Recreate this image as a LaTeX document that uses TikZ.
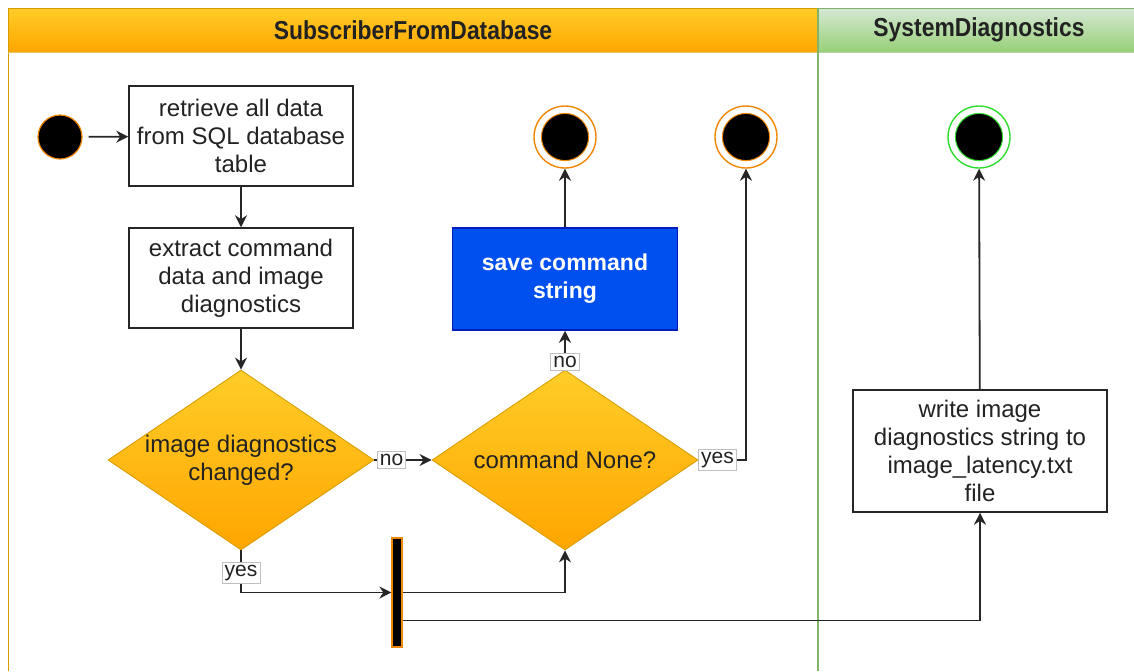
\documentclass[tikz,border=0pt]{standalone}
\usepackage{fontspec}
\usepackage{graphicx}
\setmainfont{Liberation Sans}
\usetikzlibrary{shapes.geometric,arrows.meta,calc}
\definecolor{hdrtop}{HTML}{FFCD28}
\definecolor{hdrbot}{HTML}{FFA500}
\definecolor{hdrline}{HTML}{D79B00}
\definecolor{grtop}{HTML}{D5E8D4}
\definecolor{grbot}{HTML}{97D077}
\definecolor{grline}{HTML}{82B366}
\definecolor{blu}{HTML}{0050EF}
\definecolor{bluline}{HTML}{001DBC}
\definecolor{ring}{HTML}{F08705}
\definecolor{gring}{HTML}{2EDD2E}
\definecolor{txt}{HTML}{222222}
\tikzset{
  box/.style={draw=black!85, line width=0.75pt, fill=white, rectangle, inner sep=2pt,
    align=center, text=txt, font=\fontsize{12}{14}\selectfont},
  dec/.style={diamond, draw=hdrline, line width=0.4pt, top color=hdrtop, bottom color=hdrbot,
    inner sep=0pt, minimum width=133pt, minimum height=90pt,
    label={[align=center, text=txt, font=\fontsize{12}{14}\selectfont]center:#1}},
  initstate/.style={circle, fill=black, draw=ring, line width=0.6pt, minimum size=22pt, inner sep=0pt},
  endstate/.style={circle, draw=#1, fill=white, line width=0.7pt, minimum size=31pt, inner sep=0pt,
    path picture={\fill[black] (path picture bounding box.center) circle (11.8pt);
      \draw[#1, line width=0.5pt] (path picture bounding box.center) circle (11.8pt);}},
  arr/.style={draw=black!85, line width=0.9pt, -{Stealth[length=6pt,width=6pt]}},
  lbl/.style={draw=black!25, line width=0.4pt, fill=white, inner sep=1.3pt, text=txt,
    font=\fontsize{10.5}{11}\selectfont},
  forkbar/.style={rectangle, fill=black, draw=ring, line width=0.6pt, minimum width=5pt,
    minimum height=54.5pt, inner sep=0pt},
  hdr/.style={text=txt, font=\bfseries\fontsize{13}{14}\selectfont},
}
\begin{document}
\begin{tikzpicture}[x=0.5pt,y=-0.5pt]
\useasboundingbox (0,0) rectangle (1134,671);
% swimlanes
\shade[top color=hdrtop, bottom color=hdrbot] (8,8) rectangle (818,52);
\shade[top color=grtop, bottom color=grbot] (818,8) rectangle (1134,52);
\draw[hdrline, line width=0.5pt] (8,671) -- (8,8) -- (818,8);
\draw[hdrline!60, line width=0.5pt] (8,52) -- (818,52);
\draw[grline, line width=0.5pt] (818,8) -- (1134,8);
\draw[grline!60, line width=0.5pt] (818,52) -- (1134,52);
\draw[grline, line width=0.6pt] (818,8) -- (818,671);
\node[hdr] (h1) at (413,30) {\scalebox{0.88}[1]{SubscriberFromDatabase}};
\node[hdr] (h2) at (979,30) {\scalebox{0.88}[1]{SystemDiagnostics}};
% nodes
\node[initstate] (start) at (60,137) {};
\node[box, minimum width=112pt, minimum height=50pt] (b1) at (241,136) {retrieve all data\\from SQL database\\table};
\node[box, minimum width=112pt, minimum height=50pt] (b2) at (241,278) {extract command\\data and image\\diagnostics};
\node[dec={image diagnostics\\changed?}] (d1) at (241,460) {};
\node[dec={command None?}] (d2) at (565,460) {};
\node[box, draw=bluline, fill=blu, text=white, minimum width=112.5pt, minimum height=51pt,
  font=\bfseries\fontsize{11.5}{14}\selectfont] (save) at (565,279) {save command\\string};
\node[endstate=ring] (e1) at (565,137) {};
\node[endstate=ring] (e2) at (746,137) {};
\node[endstate=gring] (e3) at (979,137) {};
\node[box, minimum width=127pt, minimum height=61pt] (w) at (980,451) {write image\\diagnostics string to\\image\_latency.txt\\file};
\node[forkbar] (fork) at (397,592.5) {};
% connectors
\draw[arr, shorten <=3pt] (start) -- (b1);
\draw[arr] (b1) -- (b2);
\draw[arr] (b2) -- (d1);
\draw[arr] (d1) -- node[lbl, pos=0.3] {no} (d2);
\draw[arr] (d2) -- node[lbl, pos=0.2] {no} (save);
\draw[arr] (d2.east) -| node[lbl, pos=0.2] {yes} (e2);
\draw[arr] (save) -- (e1);
\draw[arr] (d1.south) |- node[lbl, pos=0.27] {yes} (fork.west);
\draw[arr] (fork.east) -| (d2.south);
\draw[arr] ([yshift=-14pt]fork.east) -| (w.south);
\draw[arr] (w) -- (e3);
\end{tikzpicture}
\end{document}
